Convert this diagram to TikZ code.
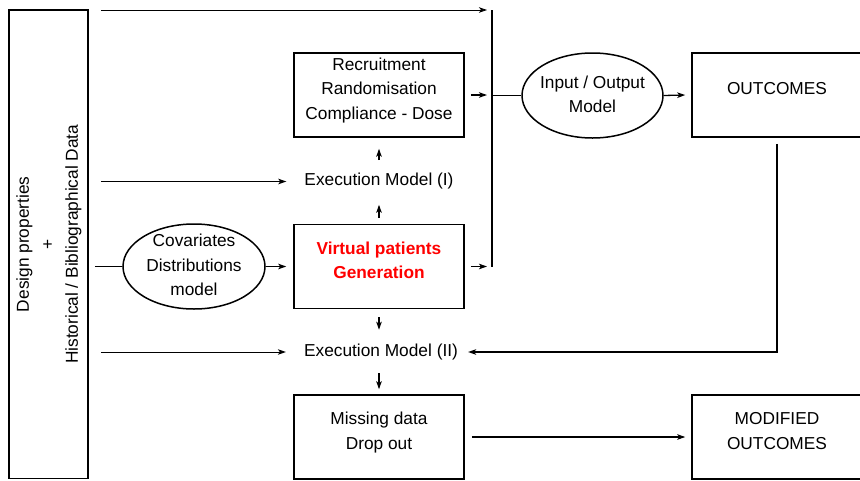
\documentclass[tikz,border=0pt]{standalone}
\usepackage{fontspec}
\setmainfont{Liberation Sans}
\usetikzlibrary{shapes.geometric,arrows.meta}
\newcommand{\diagfont}{\fontsize{17.3}{24.5}\selectfont}
% multi-line text, centred
\newcommand{\stack}[1]{\begin{tabular}{@{}c@{}}#1\end{tabular}}
% multi-line text sitting slightly above the centre of its box
\newcommand{\lifted}[1]{\raisebox{5pt}[\height][\depth]{\stack{#1}}}
% multi-line text that takes no room, so an ellipse keeps its own size
\newcommand{\nosize}[1]{\makebox[0pt]{\raisebox{-4.3pt}[0pt][0pt]{\stack{#1}}}}
\definecolor{vpred}{RGB}{255,0,0}

\begin{document}
\begin{tikzpicture}[x=1pt,y=-1pt,
  every node/.style={font=\diagfont, inner sep=0pt},
  box/.style={draw, line width=1.5pt, minimum width=170pt, minimum height=84pt},
  oval/.style={draw, ellipse, line width=1.5pt, minimum width=142pt, minimum height=85pt},
  arr/.style={-{Stealth[length=8pt,width=5.5pt,inset=2pt]}, line width=1.3pt},
  thinarr/.style={arr, line width=0.9pt},
  link/.style={line width=1.5pt}
]
\useasboundingbox (0,0) rectangle (860,480);
\clip (0,0) rectangle (860,480);

% sources of the trial data
\node[draw, line width=1.5pt, minimum width=79pt, minimum height=468.5pt] (src) at (48.5,244.25)
  {\rotatebox{90}{\stack{Design properties\\+\\Historical / Bibliographical Data}}};

% model blocks
\node[box]  (rec)  at (379,95)    {\lifted{Recruitment\\Randomisation\\Compliance - Dose}};
\node[oval, minimum width=141pt] (io) at (592.5,95.5) {\nosize{Input / Output\\Model}};
\node[box]  (out)  at (777,95)    {\lifted{OUTCOMES}};
\node       (e1)   at (379,181.5) {Execution Model (I)};
\node[oval] (cov)  at (194,266.5) {\nosize{Covariates\\Distributions\\model}};
\node[box, text=vpred, font=\diagfont\bfseries] (vp) at (379,266.5)
  {\lifted{Virtual patients\\Generation}};
\node       (e2)   at (381,352)   {Execution Model (II)};
\node[box]  (miss) at (379,437)   {\lifted{Missing data\\Drop out}};
\node[box]  (mod)  at (777,437)   {\lifted{MODIFIED\\OUTCOMES}};

% collecting bar in front of the input / output model
\coordinate (bartop) at (492,10);
\coordinate (barbot) at (492,267);
\draw[link] (bartop) -- (barbot);

% connectors
\draw[thinarr] ([xshift=12pt]src.east |- bartop) -- ([xshift=-5pt]bartop);
\draw[arr] ([xshift=6pt]rec.east) -- ([xshift=-5pt]rec.east -| bartop);
\draw[link] (io.west -| bartop) -- (io.west);
\draw[arr] (io.east) -- ([xshift=-6pt]out.west);

\draw[thinarr] ([xshift=12pt]src.east |- e1) -- ([xshift=-18pt]e1.west);
\draw[arr] ([yshift=13pt]e1.north) -- ([yshift=-11pt]rec.south);
\draw[arr] ([yshift=6pt]vp.north) -- ([yshift=-15pt]e1.south);

\draw[link] ([xshift=6pt]src.east |- cov) -- (cov.west);
\draw[arr] (cov.east) -- ([xshift=-7pt]vp.west);
\draw[arr] ([xshift=6pt]vp.east) -- ([xshift=-5pt]vp.east -| bartop);

\draw[arr] ([yshift=-8pt]vp.south) -- ([yshift=14pt]vp.south |- e2.north);
\draw[thinarr] ([xshift=12pt]src.east |- e2) -- ([xshift=-18pt]e2.west);
\draw[arr] ([yshift=-6pt]out.south) |- ([xshift=10pt]e2.east);
\draw[arr] ([yshift=-13pt]miss.north |- e2.south) -- ([yshift=5pt]miss.north);
\draw[arr] ([xshift=7pt]miss.east) -- ([xshift=-6pt]mod.west);
\end{tikzpicture}
\end{document}
